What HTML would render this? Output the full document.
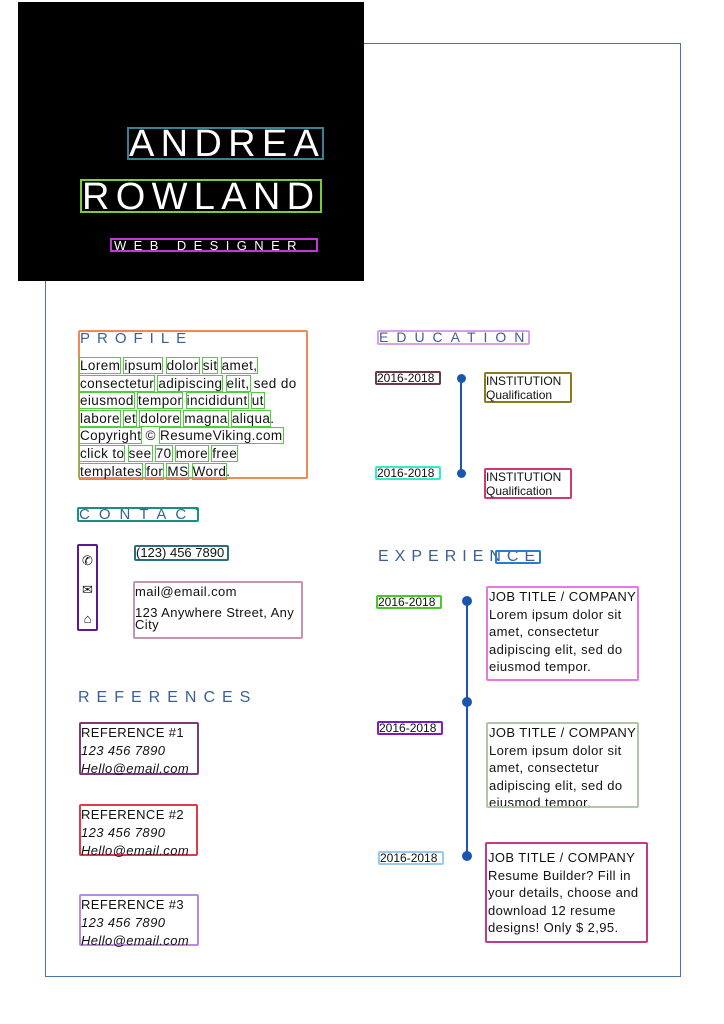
<!DOCTYPE html>
<html><head><meta charset="utf-8">
<style>
body{margin:0;width:724px;height:1024px;background:#fff;position:relative;overflow:hidden;font-family:"Liberation Sans",sans-serif;color:#111}
.a{position:absolute;box-sizing:border-box}
.b{border:2.5px solid;border-radius:2px}
.t{font-size:13px;line-height:17.6px;white-space:nowrap;letter-spacing:0.4px}
.w{outline:1px solid #4ccf3a;outline-offset:0}
.h{color:#3c5f96;letter-spacing:8px;font-size:15px}
.d{font-size:12px}
.i{font-style:italic}
</style></head><body>
<div class="a" style="left:45px;top:43px;width:636px;height:934px;border:1.5px solid #4a72b0"></div>
<div class="a" style="left:18px;top:2px;width:346px;height:279px;background:#000"></div>
<div class="a" style="left:127px;top:127px;width:197px;height:33px;color:#fff;font-size:38px;line-height:31px;border:2.5px solid #3a7f96;letter-spacing:6.3px;overflow:hidden;white-space:nowrap">ANDREA</div>
<div class="a" style="left:80px;top:179px;width:242px;height:34px;color:#fff;font-size:38px;line-height:32px;border:2.5px solid #7ecb3a;letter-spacing:6.3px;overflow:hidden;white-space:nowrap">ROWLAND</div>
<div class="a" style="left:110px;top:238px;width:208px;height:14px;color:#fff;font-size:13px;line-height:12px;letter-spacing:7.4px;border:2.5px solid #c03ad0;padding-left:2px">WEB DESIGNER</div>

<div class="a b h" style="left:78px;top:330px;width:230px;height:149px;border-color:#ee8a5a;line-height:14px;letter-spacing:7px">PROFILE</div>
<div class="a t" style="left:80px;top:357px;font-size:13.5px">
<span class="w">Lorem</span> <span class="w">ipsum</span> <span class="w">dolor</span> <span class="w">sit</span> <span class="w">amet,</span><br>
<span class="w">consectetur</span> <span class="w">adipiscing</span> <span class="w">elit,</span> sed do<br>
<span class="w">eiusmod</span> <span class="w">tempor</span> <span class="w">incididunt</span> <span class="w">ut</span><br>
<span class="w">labore</span> <span class="w">et</span> <span class="w">dolore</span> <span class="w">magna</span> <span class="w">aliqua</span>.<br>
<span class="w">Copyright</span> © <span class="w">ResumeViking.com</span><br>
<span class="w">click to</span> <span class="w">see</span> <span class="w">70</span> <span class="w">more</span> <span class="w">free</span><br>
<span class="w">templates</span> <span class="w">for</span> <span class="w">MS</span> <span class="w">Word</span>.</div>

<div class="a b h" style="left:77px;top:507px;width:122px;height:15px;border-color:#1a8f80;line-height:11px;letter-spacing:9px;overflow:hidden">CONTACT</div>
<div class="a b" style="left:77px;top:544px;width:21px;height:87px;border-color:#5a1a8f;font-size:13px;line-height:29px;text-align:center">✆<br>✉<br>⌂</div>
<div class="a b t" style="left:134px;top:545px;width:95px;height:16px;border-color:#2a6f80;line-height:12px;letter-spacing:0">(123) 456 7890</div>
<div class="a b t" style="left:133px;top:581px;width:170px;height:58px;border-color:#c496b0;line-height:17px">mail@email.com<br><span style="line-height:26px">123 Anywhere Street, Any</span><br><span style="position:relative;top:-10px">City</span></div>

<div class="a h" style="left:78px;top:689px;font-size:16px;letter-spacing:7px">REFERENCES</div>
<div class="a b t" style="left:79px;top:722px;width:120px;height:53px;border-color:#7a3a7f;line-height:18px">REFERENCE #1<br><span class="i">123 456 7890</span><br><span class="i">Hello@email.com</span></div>
<div class="a b t" style="left:79px;top:804px;width:119px;height:52px;border-color:#e03a4a;line-height:18px">REFERENCE #2<br><span class="i">123 456 7890</span><br><span class="i">Hello@email.com</span></div>
<div class="a b t" style="left:79px;top:894px;width:120px;height:52px;border-color:#b88ae0;line-height:18px">REFERENCE #3<br><span class="i">123 456 7890</span><br><span class="i">Hello@email.com</span></div>

<div class="a b h" style="left:377px;top:330px;width:153px;height:15px;border-color:#d8a0e8;line-height:11px;font-size:14px;overflow:hidden">EDUCATION</div>
<div class="a b d" style="left:375px;top:371px;width:66px;height:14px;border-color:#6a3a4a;line-height:10px">2016-2018</div>
<div class="a b d" style="left:375px;top:466px;width:66px;height:14px;border-color:#3ae8c8;line-height:10px">2016-2018</div>
<div class="a" style="left:460px;top:378px;width:2px;height:96px;background:#1a56b0"></div>
<div class="a" style="left:457px;top:374px;width:9px;height:9px;border-radius:50%;background:#1a56b0"></div>
<div class="a" style="left:457px;top:469px;width:9px;height:9px;border-radius:50%;background:#1a56b0"></div>
<div class="a b t" style="left:484px;top:372px;width:88px;height:31px;border-color:#8a7a1a;line-height:14px;font-size:12px;letter-spacing:0">INSTITUTION<br>Qualification</div>
<div class="a b t" style="left:484px;top:468px;width:88px;height:31px;border-color:#d03a6a;line-height:14px;font-size:12px;letter-spacing:0">INSTITUTION<br>Qualification</div>

<div class="a h" style="left:378px;top:548px;font-size:16px;letter-spacing:6px">EXPERIENCE</div>
<div class="a b" style="left:495px;top:550px;width:46px;height:14px;border-color:#2a7ad0"></div>
<div class="a b d" style="left:376px;top:595px;width:66px;height:14px;border-color:#4ac82a;line-height:10px">2016-2018</div>
<div class="a b d" style="left:377px;top:721px;width:66px;height:14px;border-color:#7a1ac8;line-height:10px">2016-2018</div>
<div class="a b d" style="left:378px;top:851px;width:66px;height:14px;border-color:#9acbee;line-height:10px">2016-2018</div>
<div class="a" style="left:466px;top:600px;width:2px;height:256px;background:#1a56b0"></div>
<div class="a" style="left:462px;top:596px;width:10px;height:10px;border-radius:50%;background:#1a56b0"></div>
<div class="a" style="left:462px;top:697px;width:10px;height:10px;border-radius:50%;background:#1a56b0"></div>
<div class="a" style="left:462px;top:851px;width:10px;height:10px;border-radius:50%;background:#1a56b0"></div>
<div class="a b t" style="left:486px;top:586px;width:153px;height:95px;border-color:#e878e0;padding-left:1px;overflow:hidden">JOB TITLE / COMPANY<br>Lorem ipsum dolor sit<br>amet, consectetur<br>adipiscing elit, sed do<br>eiusmod tempor.</div>
<div class="a b t" style="left:486px;top:722px;width:153px;height:86px;border-color:#b0c8a8;padding-left:1px;overflow:hidden">JOB TITLE / COMPANY<br>Lorem ipsum dolor sit<br>amet, consectetur<br>adipiscing elit, sed do<br>eiusmod tempor.</div>
<div class="a b t" style="left:485px;top:842px;width:163px;height:101px;border-color:#c03a8a;padding-left:1px;padding-top:5px;overflow:hidden">JOB TITLE / COMPANY<br>Resume Builder? Fill in<br>your details, choose and<br>download 12 resume<br>designs! Only $ 2,95.</div>
</body></html>
